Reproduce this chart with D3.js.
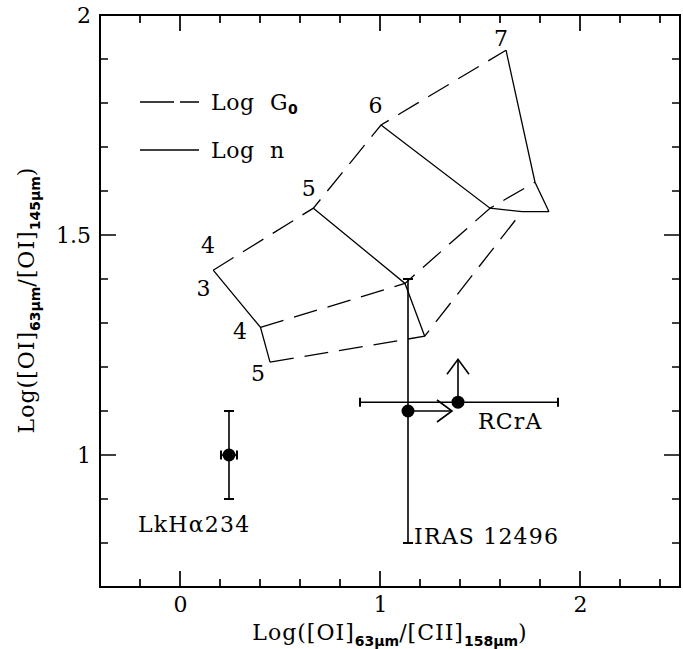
<!DOCTYPE html>
<html>
<head>
<meta charset="utf-8">
<script src="https://cdn.jsdelivr.net/npm/d3@7"></script>
<style>
  body { margin: 0; background: #fff; }
  svg text { font-family: "DejaVu Serif", serif; fill: #000; }
</style>
</head>
<body>
<svg width="683" height="649"></svg>
<script>
// axis ranges
var xDomain = [-0.4, 2.5];
var yDomain = [0.7, 2.0];
var xMajor = [0, 1, 2];
var yMajor = [1, 1.5, 2];
var xMinor = [-0.2, 0.2, 0.4, 0.6, 0.8, 1.2, 1.4, 1.6, 1.8, 2.2, 2.4];
var yMinor = [0.8, 0.9, 1.1, 1.2, 1.3, 1.4, 1.6, 1.7, 1.8, 1.9];

// model grid: dashed = constant G0, solid = constant n
var dashedLines = [
  [[0.166, 1.42], [0.667, 1.561], [1.005, 1.75], [1.63, 1.92]],
  [[0.4025, 1.29], [1.125, 1.39], [1.55, 1.561], [1.775, 1.62]],
  [[0.45, 1.211], [1.2235, 1.27], [1.71, 1.553]]
];
var solidLines = [
  [[0.166, 1.42], [0.4025, 1.29], [0.45, 1.211]],
  [[0.667, 1.561], [1.125, 1.39], [1.2235, 1.27]],
  [[1.005, 1.75], [1.55, 1.561], [1.71, 1.553], [1.845, 1.553]],
  [[1.63, 1.92], [1.775, 1.62], [1.845, 1.553]]
];
var gridLabels = ["7", "6", "5", "4", "3", "4", "5"];
var gridLabelX = [1.605, 0.978, 0.644, 0.14, 0.118, 0.30, 0.39];
var gridLabelY = [1.948, 1.795, 1.607, 1.477, 1.380, 1.2825, 1.186];

// observed sources
var srcNames = ["LkHα234", "IRAS 12496", "RCrA"];
var srcX = [0.245, 1.14, 1.39];
var srcY = [1.0, 1.10, 1.12];
var srcXerr = [[0.205, 0.285], null, [0.9, 1.89]];
var srcYerr = [[0.9, 1.1], [0.8, 1.4], null];
var srcArrowTo = [null, [1.36, 1.10], [1.39, 1.2175]];
var srcLabelX = [-0.21, 1.17, 1.49];
var srcLabelY = [0.826, 0.798, 1.058];

var svg = d3.select("svg");
var x = d3.scaleLinear().domain(xDomain).range([100, 680]);
var y = d3.scaleLinear().domain(yDomain).range([587, 15]);

// tick marks: x ticks (bottom + top), y ticks (left + right), pointing inward
var tickData = [];
xMinor.forEach(function(v) { tickData.push({ax: "x", v: v, len: 8}); });
xMajor.forEach(function(v) { tickData.push({ax: "x", v: v, len: 16}); });
yMinor.forEach(function(v) { tickData.push({ax: "y", v: v, len: 8}); });
yMajor.forEach(function(v) { tickData.push({ax: "y", v: v, len: 16}); });

function tickPath(d) {
  if (d.ax === "x") {
    var px = x(d.v);
    return "M" + px + ",587V" + (587 - d.len) + "M" + px + ",15V" + (15 + d.len);
  }
  var py = y(d.v);
  return "M100," + py + "H" + (100 + d.len) + "M680," + py + "H" + (680 - d.len);
}
svg.selectAll("path.tick").data(tickData).enter().append("path")
  .attr("class", "tick").attr("d", tickPath)
  .attr("fill", "none").attr("stroke", "#000").attr("stroke-width", 1.7);

// tick labels via d3 axes
function labels(gen, tr, vals, pad) {
  var g = svg.append("g").attr("transform", tr)
    .call(gen.tickValues(vals).tickSize(0).tickPadding(pad).tickFormat(d3.format("")));
  g.select(".domain").remove();
  g.selectAll("text").attr("font-size", 22).attr("font-family", "DejaVu Serif").attr("fill", "#000");
}
labels(d3.axisBottom(x), "translate(0,587)", xMajor, 9);
labels(d3.axisLeft(y), "translate(100,0)", yMajor, 9);

svg.append("rect").attr("x", 100).attr("y", 15).attr("width", 580).attr("height", 572)
  .attr("fill", "none").attr("stroke", "#000").attr("stroke-width", 2);

var line = d3.line().x(function(d) { return x(d[0]); }).y(function(d) { return y(d[1]); });

svg.selectAll("path.dash").data(dashedLines).enter().append("path")
  .attr("d", line).attr("fill", "none").attr("stroke", "#000")
  .attr("stroke-width", 1.3).attr("stroke-dasharray", "24,11");
svg.selectAll("path.solid").data(solidLines).enter().append("path")
  .attr("d", line).attr("fill", "none").attr("stroke", "#000").attr("stroke-width", 1.3);

svg.selectAll("text.glab").data(gridLabels).enter().append("text")
  .attr("x", function(d, i) { return x(gridLabelX[i]); })
  .attr("y", function(d, i) { return y(gridLabelY[i]); })
  .attr("dy", "0.36em").attr("text-anchor", "middle").attr("font-size", 22)
  .text(function(d) { return d; });

// legend
svg.append("line").attr("x1", 140).attr("x2", 199).attr("y1", 102).attr("y2", 102)
  .attr("stroke", "#000").attr("stroke-width", 1.3).attr("stroke-dasharray", "34,6");
svg.append("line").attr("x1", 140).attr("x2", 199).attr("y1", 150).attr("y2", 150)
  .attr("stroke", "#000").attr("stroke-width", 1.3);
var lg = svg.append("text").attr("x", 211).attr("y", 110).attr("font-size", 22).attr("letter-spacing", 0.6);
lg.append("tspan").text("Log\u00a0\u00a0G");
lg.append("tspan").attr("dy", 4).attr("font-size", 14).attr("font-family", "DejaVu Sans").attr("font-weight", "bold").text("0");
svg.append("text").attr("x", 211).attr("y", 158).attr("font-size", 22).attr("letter-spacing", 0.6).text("Log\u00a0\u00a0n");

// error bars, arrows, points
var stroke = function(s) { return s.attr("stroke", "#000").attr("stroke-width", 1.6).attr("fill", "none"); };
srcX.forEach(function(sx, i) {
  var px = x(sx), py = y(srcY[i]);
  if (srcYerr[i]) {
    stroke(svg.append("line").attr("x1", px).attr("x2", px).attr("y1", y(srcYerr[i][0])).attr("y2", y(srcYerr[i][1])));
    srcYerr[i].forEach(function(v) {
      stroke(svg.append("line").attr("x1", px - 5).attr("x2", px + 5).attr("y1", y(v)).attr("y2", y(v))).attr("stroke-width", 2);
    });
  }
  if (srcXerr[i]) {
    stroke(svg.append("line").attr("x1", x(srcXerr[i][0])).attr("x2", x(srcXerr[i][1])).attr("y1", py).attr("y2", py));
    srcXerr[i].forEach(function(v) {
      stroke(svg.append("line").attr("x1", x(v)).attr("x2", x(v)).attr("y1", py - 4.5).attr("y2", py + 4.5)).attr("stroke-width", 2);
    });
  }
  if (srcArrowTo[i]) {
    var ex = x(srcArrowTo[i][0]), ey = y(srcArrowTo[i][1]);
    stroke(svg.append("line").attr("x1", px).attr("y1", py).attr("x2", ex).attr("y2", ey));
    var ang = Math.atan2(ey - py, ex - px), L = 15, W = 11;
    var bx = ex - L * Math.cos(ang), by = ey - L * Math.sin(ang);
    var nx = -Math.sin(ang) * W, ny = Math.cos(ang) * W;
    stroke(svg.append("path").attr("d", "M" + (bx + nx) + "," + (by + ny) + "L" + ex + "," + ey + "L" + (bx - nx) + "," + (by - ny)));
  }
});
svg.selectAll("circle.src").data(srcX).enter().append("circle")
  .attr("cx", function(d) { return x(d); })
  .attr("cy", function(d, i) { return y(srcY[i]); })
  .attr("r", 6.5).attr("fill", "#000");

svg.selectAll("text.src").data(srcNames).enter().append("text")
  .attr("x", function(d, i) { return x(srcLabelX[i]); })
  .attr("y", function(d, i) { return y(srcLabelY[i]); })
  .attr("font-size", 22).attr("letter-spacing", 1.2)
  .text(function(d) { return d; });

// axis titles
function title(t, parts) {
  parts.forEach(function(q) {
    var s = t.append("tspan").text(q[0]);
    if (q[1]) s.attr("font-size", 14).attr("font-family", "DejaVu Sans").attr("font-weight", "bold").attr("dy", 6).attr("letter-spacing", 0);
    else if (q[2]) s.attr("dy", -6);
  });
}
var xt = svg.append("text").attr("x", 390).attr("y", 640).attr("text-anchor", "middle").attr("font-size", 22).attr("letter-spacing", 1);
title(xt, [["Log([OI]"], ["63μm", 1], ["/[CII]", 0, 1], ["158μm", 1], [")", 0, 1]]);
var yt = svg.append("text").attr("transform", "translate(34,300) rotate(-90)").attr("text-anchor", "middle").attr("font-size", 22).attr("letter-spacing", 1);
title(yt, [["Log([OI]"], ["63μm", 1], ["/[OI]", 0, 1], ["145μm", 1], [")", 0, 1]]);
</script>
</body>
</html>
